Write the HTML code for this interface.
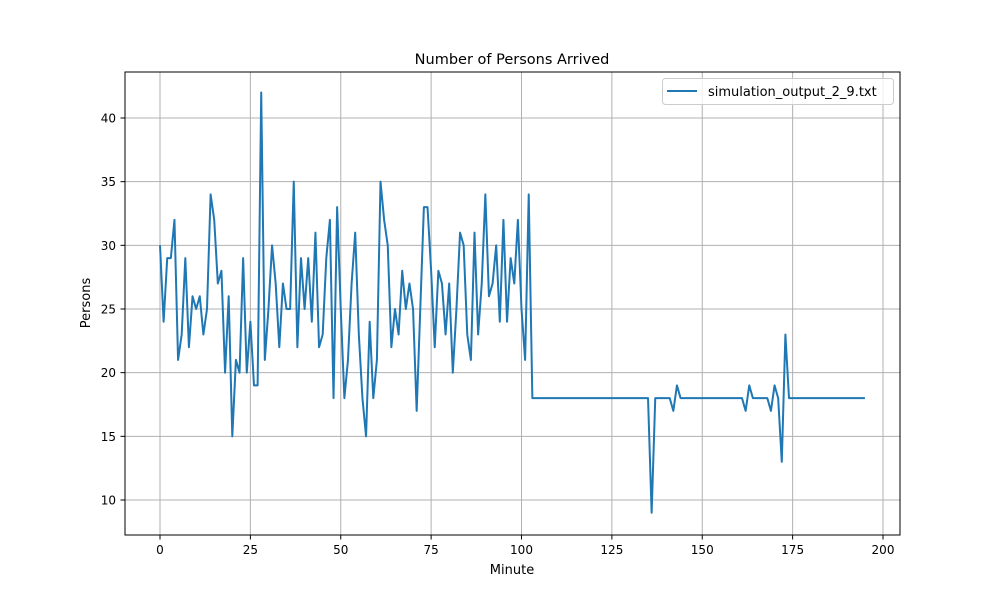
<!DOCTYPE html>
<html><head><meta charset="utf-8"><style>
body{margin:0;background:#fff}
svg{display:block;font-family:"DejaVu Sans","Liberation Sans",sans-serif}
</style></head><body>
<svg id="chart" width="1000" height="600">
<rect width="1000" height="600" fill="#fff"/>
<g id="grid"></g>
<g id="ticks"></g>
<rect x="125" y="72" width="775" height="463" fill="none" stroke="#000" stroke-width="1"/>
<path id="line" fill="none" stroke="#1f77b4" stroke-width="2" stroke-linejoin="round"/>
<text x="512" y="64" text-anchor="middle" font-size="14.5">Number of Persons Arrived</text>
<text x="512" y="574" text-anchor="middle" font-size="13">Minute</text>
<text transform="translate(90,303) rotate(-90)" text-anchor="middle" font-size="13">Persons</text>
<g>
<rect x="662.5" y="78.5" width="231" height="26" rx="3" fill="#fff" fill-opacity="0.8" stroke="#ccc"/>
<line x1="667" y1="91" x2="697" y2="91" stroke="#1f77b4" stroke-width="2"/>
<text x="708" y="96" font-size="13">simulation_output_2_9.txt</text>
</g>
</svg>
<script>
const head = [30,24,29,29,32,21,23,29,22,26,25,26,23,25,34,32,27,28,20,26,15,21,20,29,20,24,19,19,42,21,25,30,27,22,27,25,25,35,22,29,25,29,24,31,22,23,29,32,18,33,25,18,21,27,31,23,18,15,24,18,21,35,32,30,22,25,23,28,25,27,25,17,25,33,33,28,22,28,27,23,27,20,25,31,30,23,21,31,23,27,34,26,27,30,24,32,24,29,27,32,25,21,34];
const tail = {136:9,142:17,143:19,162:17,163:19,169:17,170:19,172:13,173:23};
const minutes = [];
const persons = [];
for (let m = 0; m <= 195; m++) {
  minutes.push(m);
  persons.push(m < head.length ? head[m] : (tail[m] !== undefined ? tail[m] : 18));
}
const xTicks = [0,25,50,75,100,125,150,175,200];
const yTicks = [10,15,20,25,30,35,40];
const xs = v => 160 + (v - 0) * (883 - 160) / 200;
const ys = v => 500 - (v - 10) * (500 - 118) / 30;
const NS = "http://www.w3.org/2000/svg";
const grid = document.getElementById('grid');
const ticks = document.getElementById('ticks');
function mk(tag, attrs, parent) {
  const e = document.createElementNS(NS, tag);
  for (const k in attrs) e.setAttribute(k, attrs[k]);
  parent.appendChild(e);
  return e;
}
xTicks.forEach(t => {
  const x = xs(t);
  const g = mk('line', {x1:x, x2:x, y1:72, y2:535, stroke:'#b0b0b0', 'stroke-width':1}, grid);
  
  
  mk('line', {x1:x, x2:x, y1:535, y2:539.5, stroke:'#000'}, ticks);
  const tx = mk('text', {x:x, y:554, 'text-anchor':'middle', 'font-size':12}, ticks);
  tx.textContent = t;
  
  
});
yTicks.forEach(t => {
  const y = ys(t);
  const g = mk('line', {x1:125, x2:900, y1:y, y2:y, stroke:'#b0b0b0', 'stroke-width':1}, grid);
  
  
  mk('line', {x1:120.5, x2:125, y1:y, y2:y, stroke:'#000'}, ticks);
  const tx = mk('text', {x:116, y:y + 4.5, 'text-anchor':'end', 'font-size':12}, ticks);
  tx.textContent = t;
  
  
});
document.getElementById('line').setAttribute('d',
  minutes.map((m, i) => (i ? 'L' : 'M') + xs(m).toFixed(2) + ',' + ys(persons[i]).toFixed(2)).join(''));
</script>
</body></html>
